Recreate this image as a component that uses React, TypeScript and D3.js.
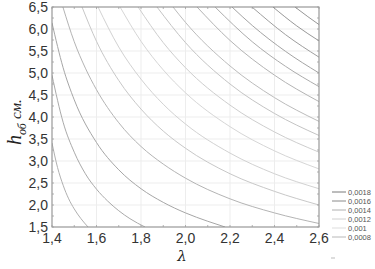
import React from 'react';
import * as d3 from 'd3';

// Isolines, as [lambda, h] pairs, lower left to upper right
const ISOLINES: [number, number][][] = [
  [[1.4, 3.41], [1.425, 2.85], [1.45, 2.45], [1.475, 2.14], [1.5, 1.91], [1.53, 1.69], [1.562, 1.5]],
  [[1.4, 4.95], [1.45, 3.88], [1.5, 3.2], [1.55, 2.71], [1.6, 2.36], [1.65, 2.09], [1.7, 1.87], [1.75, 1.69], [1.818, 1.5]],
  [[1.4, 6.14], [1.45, 5.12], [1.5, 4.39], [1.6, 3.42], [1.7, 2.8], [1.8, 2.37], [1.9, 2.06], [2.0, 1.82], [2.1, 1.63], [2.178, 1.5]],
  [[1.449, 6.5], [1.5, 5.71], [1.55, 5.11], [1.6, 4.62], [1.7, 3.87], [1.8, 3.33], [1.9, 2.93], [2.0, 2.61], [2.2, 2.14], [2.4, 1.82], [2.6, 1.58]],
  [[1.535, 6.5], [1.6, 5.72], [1.7, 4.83], [1.8, 4.18], [1.9, 3.68], [2.0, 3.29], [2.2, 2.71], [2.4, 2.31], [2.6, 2.0]],
  [[1.607, 6.5], [1.7, 5.59], [1.8, 4.86], [1.9, 4.29], [2.0, 3.84], [2.2, 3.18], [2.4, 2.71], [2.6, 2.37]],
  [[1.706, 6.5], [1.8, 5.72], [1.9, 5.07], [2.0, 4.55], [2.2, 3.78], [2.4, 3.23], [2.6, 2.82]],
  [[1.787, 6.5], [1.9, 5.69], [2.0, 5.12], [2.2, 4.27], [2.4, 3.66], [2.6, 3.2]],
  [[1.872, 6.5], [2.0, 5.69], [2.2, 4.75], [2.4, 4.08], [2.6, 3.58]],
  [[1.944, 6.5], [2.0, 6.15], [2.2, 5.16], [2.4, 4.44], [2.6, 3.9]],
  [[2.052, 6.5], [2.2, 5.74], [2.4, 4.95], [2.6, 4.35]],
  [[2.133, 6.5], [2.3, 5.71], [2.45, 5.15], [2.6, 4.69]],
  [[2.209, 6.5], [2.3, 6.08], [2.45, 5.49], [2.6, 5.0]],
  [[2.299, 6.5], [2.45, 5.87], [2.6, 5.36]],
  [[2.393, 6.5], [2.5, 6.07], [2.6, 5.73]],
  [[2.492, 6.5], [2.55, 6.28], [2.6, 6.1]]
];

const LAMBDA_TICKS = [1.4, 1.6, 1.8, 2.0, 2.2, 2.4, 2.6];
const H_TICKS = [1.5, 2.0, 2.5, 3.0, 3.5, 4.0, 4.5, 5.0, 5.5, 6.0, 6.5];
const LEGEND_LABELS = ['0,0018', '0,0016', '0,0014', '0,0012', '0,001', '0,0008', '0,0006'];

// line greys, same order as ISOLINES
const LINE_GREYS = ['#b0b0b0', '#aaaaaa', '#a6a6a6', '#b4b4b4', '#c8c8c8', '#d2d2d2', '#d6d6d6', '#cecece',
  '#c4c4c4', '#bcbcbc', '#b4b4b4', '#acacac', '#a4a4a4', '#9e9e9e', '#989898', '#969696'];
const LEGEND_GREYS = ['#7a7a7a', '#8a8a8a', '#b0b0b0', '#d0d0d0', '#dddddd', '#b8b8b8', '#c8c8c8'];

const W = 375, H = 269;
const margin = {left: 52, right: 56, top: 7, bottom: 42};

const comma = (v: number) => d3.format('.1f')(v).replace('.', ',');

export default function App() {
  const x = d3.scaleLinear().domain([1.4, 2.6]).range([margin.left, W - margin.right]);
  const y = d3.scaleLinear().domain([1.5, 6.5]).range([H - margin.bottom, margin.top]);
  const line = d3.line<[number, number]>()
    .x(d => x(d[0]))
    .y(d => y(d[1]))
    .curve(d3.curveMonotoneX);

  const minorX = d3.range(1.4, 2.6001, 0.1);
  const minorY = d3.range(1.5, 6.5001, 0.25);

  return (
    <div style={{position: 'absolute', left: 0, top: 0}}>
      <svg width={W} height={H} style={{display: 'block', background: '#fff'}}>
        <defs>
          <clipPath id='plot-clip'>
            <rect x={x(1.4)} y={y(6.5)} width={x(2.6) - x(1.4)} height={y(1.5) - y(6.5)} />
          </clipPath>
          <clipPath id='legend-clip'>
            <rect x={325} y={180} width={50} height={64} />
          </clipPath>
        </defs>

        {/* grid */}
        <g stroke='#ededed' strokeWidth={1}>
          {LAMBDA_TICKS.map(t => (
            <line key={'gx' + t} x1={x(t)} x2={x(t)} y1={y(1.5)} y2={y(6.5)} />
          ))}
          {H_TICKS.map(t => (
            <line key={'gy' + t} x1={x(1.4)} x2={x(2.6)} y1={y(t)} y2={y(t)} />
          ))}
        </g>

        {/* isolines */}
        <g clipPath='url(#plot-clip)' fill='none' strokeWidth={1}>
          {ISOLINES.map((pts, i) => (
            <path key={i} d={line(pts) || ''} stroke={LINE_GREYS[i]} />
          ))}
        </g>

        {/* frame and small ticks */}
        <rect x={x(1.4)} y={y(6.5)} width={x(2.6) - x(1.4)} height={y(1.5) - y(6.5)}
          fill='none' stroke='#8c8c8c' strokeWidth={1} />
        <g stroke='#a0a0a0' strokeWidth={0.8}>
          {minorX.map(t => (
            <React.Fragment key={'mx' + t}>
              <line x1={x(t)} x2={x(t)} y1={y(1.5)} y2={y(1.5) - 2} />
              <line x1={x(t)} x2={x(t)} y1={y(6.5)} y2={y(6.5) + 2} />
            </React.Fragment>
          ))}
          {minorY.map(t => (
            <React.Fragment key={'my' + t}>
              <line x1={x(1.4)} x2={x(1.4) + 2} y1={y(t)} y2={y(t)} />
              <line x1={x(2.6)} x2={x(2.6) - 2} y1={y(t)} y2={y(t)} />
            </React.Fragment>
          ))}
        </g>

        {/* tick labels */}
        <g fontFamily='Liberation Sans, Arial, sans-serif' fontSize={14} fill='#333'>
          {LAMBDA_TICKS.map(t => (
            <text key={'lx' + t} x={x(t)} y={H - margin.bottom + 16} textAnchor='middle'>{comma(t)}</text>
          ))}
          {H_TICKS.map(t => (
            <text key={'ly' + t} x={x(1.4) - 4} y={y(t) + 5} textAnchor='end'>{comma(t)}</text>
          ))}
        </g>

        {/* axis titles */}
        <text x={182} y={261} textAnchor='middle' fontFamily='DejaVu Serif, serif' fontStyle='italic'
          fontSize={15} fill='#222'>λ</text>
        <text transform='translate(21,145) rotate(-90)' fontFamily='Liberation Serif, serif'
          fontStyle='italic' fill='#222'>
          <tspan fontSize={20}>h</tspan>
          <tspan fontSize={12} dy={5}>об</tspan>
          <tspan fontSize={15} dy={-5} dx={4}>см.</tspan>
        </text>

        {/* legend */}
        <g clipPath='url(#legend-clip)' fontFamily='Liberation Sans, Arial, sans-serif' fontSize={7.5} fill='#555'>
          {LEGEND_LABELS.map((lab, i) => (
            <g key={lab} transform={`translate(0,${192 + i * 9})`}>
              <line x1={332} x2={346} y1={0} y2={0} stroke={LEGEND_GREYS[i]} strokeWidth={1} />
              <text x={348} y={3}>{lab}</text>
            </g>
          ))}
        </g>
        <line x1={331} x2={335} y1={258} y2={258} stroke='#bbb' strokeWidth={1} />
      </svg>
    </div>
  );
}
